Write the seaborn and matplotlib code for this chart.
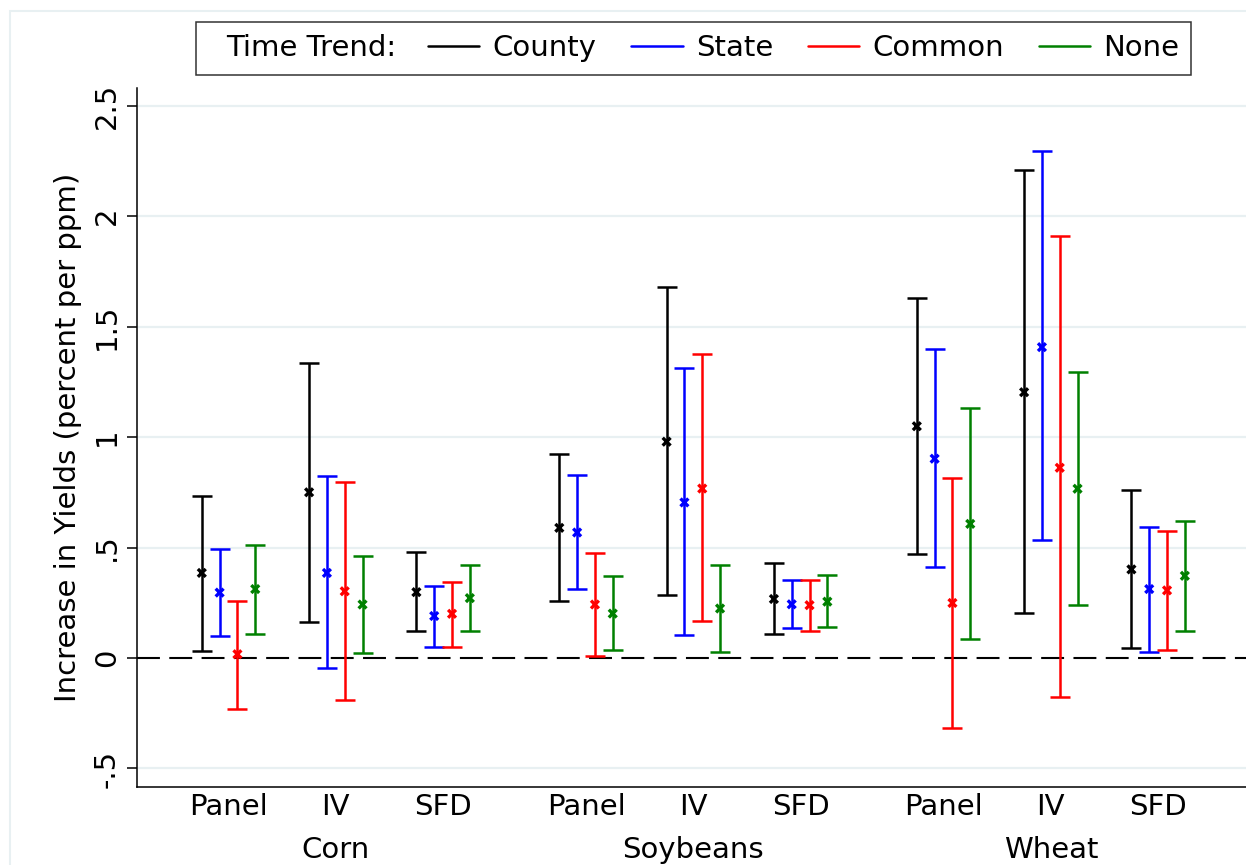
import numpy as np
import pandas as pd
import matplotlib
matplotlib.use("Agg")
import matplotlib.pyplot as plt
from matplotlib.lines import Line2D
from matplotlib.patches import Rectangle
from matplotlib.offsetbox import HPacker, DrawingArea
import seaborn as sns

# ---- data -------------------------------------------------------------
crops = ["Corn", "Soybeans", "Wheat"]
methods = ["Panel", "IV", "SFD"]
trends = ["County", "State", "Common", "None"]
trend_colors = ["#000000", "#0000ff", "#ff0000", "#008000"]

# point estimates and interval bounds, ordered Corn(Panel, IV, SFD), Soybeans(...), Wheat(...)
county_est = [0.385, 0.750, 0.298, 0.589, 0.979, 0.267, 1.049, 1.203, 0.401]
county_lo = [0.033, 0.163, 0.121, 0.258, 0.287, 0.107, 0.469, 0.204, 0.043]
county_hi = [0.735, 1.335, 0.479, 0.923, 1.678, 0.428, 1.629, 2.210, 0.759]

state_est = [0.296, 0.385, 0.190, 0.568, 0.704, 0.243, 0.902, 1.407, 0.312]
state_lo = [0.098, -0.046, 0.050, 0.310, 0.104, 0.134, 0.410, 0.532, 0.029]
state_hi = [0.494, 0.823, 0.327, 0.828, 1.311, 0.352, 1.400, 2.295, 0.593]

common_est = [0.017, 0.302, 0.200, 0.242, 0.767, 0.239, 0.249, 0.861, 0.306]
common_lo = [-0.233, -0.192, 0.048, 0.009, 0.166, 0.121, -0.315, -0.177, 0.036]
common_hi = [0.258, 0.798, 0.346, 0.473, 1.375, 0.355, 0.816, 1.911, 0.577]

none_est = [0.312, 0.242, 0.271, 0.201, 0.224, 0.255, 0.607, 0.766, 0.372]
none_lo = [0.110, 0.021, 0.121, 0.035, 0.026, 0.139, 0.086, 0.240, 0.124]
none_hi = [0.512, 0.462, 0.423, 0.370, 0.420, 0.375, 1.132, 1.296, 0.621]

ytick_vals = [-0.5, 0, 0.5, 1, 1.5, 2, 2.5]
ytick_labels = ["-.5", "0", ".5", "1", "1.5", "2", "2.5"]

# ---- layout of the categorical x axis --------------------------------
crop_gap = 0.332     # extra space between crop blocks
bar_step = 0.166     # spacing of the four trend bars within a method

est_all = [county_est, state_est, common_est, none_est]
lo_all = [county_lo, state_lo, common_lo, none_lo]
hi_all = [county_hi, state_hi, common_hi, none_hi]

rows = []
for t, trend in enumerate(trends):
    for c, crop in enumerate(crops):
        for m, method in enumerate(methods):
            i = c * len(methods) + m
            center = c * (len(methods) + crop_gap) + m
            rows.append(dict(crop=crop, method=method, trend=trend,
                             est=est_all[t][i], lo=lo_all[t][i], hi=hi_all[t][i],
                             center=center,
                             x=center + (t - 1.5) * bar_step))
df = pd.DataFrame(rows)

# ---- figure -------------------------------------------------------------
sns.set_style("white")
plt.rcParams["font.family"] = ["DejaVu Sans"]
for key in ["text.color", "axes.labelcolor", "xtick.color", "ytick.color"]:
    plt.rcParams[key] = "black"

W, H = 1246, 865
fig = plt.figure(figsize=(W / 100, H / 100), dpi=100)
ax = fig.add_axes([137 / W, 1 - 787 / H, 1 - 137 / W, (787 - 88) / H])

grid_color = "#e8f0f2"
for yv in ytick_vals:
    if yv != 0:
        ax.axhline(yv, color=grid_color, lw=1.6, zorder=0.5)
ax.axhline(0, color="black", lw=1.5, dashes=(11, 4.5), zorder=1.5)

for trend, color in zip(trends, trend_colors):
    sub = df[df.trend == trend]
    ax.errorbar(sub.x, sub.est,
                yerr=[sub.est - sub.lo, sub.hi - sub.est],
                fmt="none", ecolor=color, elinewidth=1.8,
                capsize=7.5, capthick=1.8, zorder=2)

sns.scatterplot(data=df, x="x", y="est", hue="trend", hue_order=trends,
                palette=trend_colors, marker="x", s=32, linewidth=2.4,
                legend=False, zorder=3, ax=ax)

# ---- axes ---------------------------------------------------------------
ax.set_xlim(-0.853, 9.483)
ax.set_ylim(-0.584, 2.58)

ax.set_yticks(ytick_vals)
ax.set_yticklabels(ytick_labels, rotation=90, va="center", fontsize=21)
ax.tick_params(axis="y", which="major", direction="out", length=7.5,
               width=1.1, color="black", pad=4, left=True)

centers = df.drop_duplicates("center")["center"].tolist()
method_labels = df.drop_duplicates("center")["method"].tolist()
ax.set_xticks(centers)
ax.set_xticklabels(method_labels, fontsize=21)
crop_centers = [c * (len(methods) + crop_gap) + 1 for c in range(len(crops))]
ax.xaxis.remove_overlapping_locs = False
ax.set_xticks(crop_centers, minor=True)
ax.set_xticklabels(crops, minor=True, fontsize=21)
ax.tick_params(axis="x", which="major", length=0, pad=4)
ax.tick_params(axis="x", which="minor", length=0, pad=35)

ax.set_xlabel("")
ax.set_ylabel("Increase in Yields (percent per ppm)", fontsize=21, labelpad=8)

for side in ["top", "right"]:
    ax.spines[side].set_visible(False)
for side in ["left", "bottom"]:
    ax.spines[side].set_color("black")
    ax.spines[side].set_linewidth(1.1)

# ---- legend with the title on the same row ---------------------------
handles = [Line2D([], [], color=c, lw=1.8) for c in trend_colors]
leg = ax.legend(handles, trends, title="Time Trend:", ncol=4,
                loc="upper center", bbox_to_anchor=(693.5 / W, 1 - 22 / H),
                bbox_transform=fig.transFigure, borderaxespad=0,
                frameon=True, fancybox=False, edgecolor="black",
                fontsize=21, title_fontsize=21, handlelength=1.75,
                handletextpad=0.45, columnspacing=1.2, borderpad=0.42)
leg.get_frame().set_linewidth(1.1)
leg.get_title().set_color("black")
box = leg._legend_box
title_box, entries_box = box.get_children()
row = HPacker(pad=0, sep=23, align="center", children=[title_box, entries_box])
box._children = [HPacker(pad=0, sep=0, align="center",
                         children=[DrawingArea(13, 1), row])]

# faint outer border of the graph region
fig.add_artist(Rectangle((10 / W, -0.1), 1.2, 1.1 - 11 / H,
                         transform=fig.transFigure, fill=False,
                         edgecolor=grid_color, lw=1.5))

fig.savefig("out.png", dpi=100)
